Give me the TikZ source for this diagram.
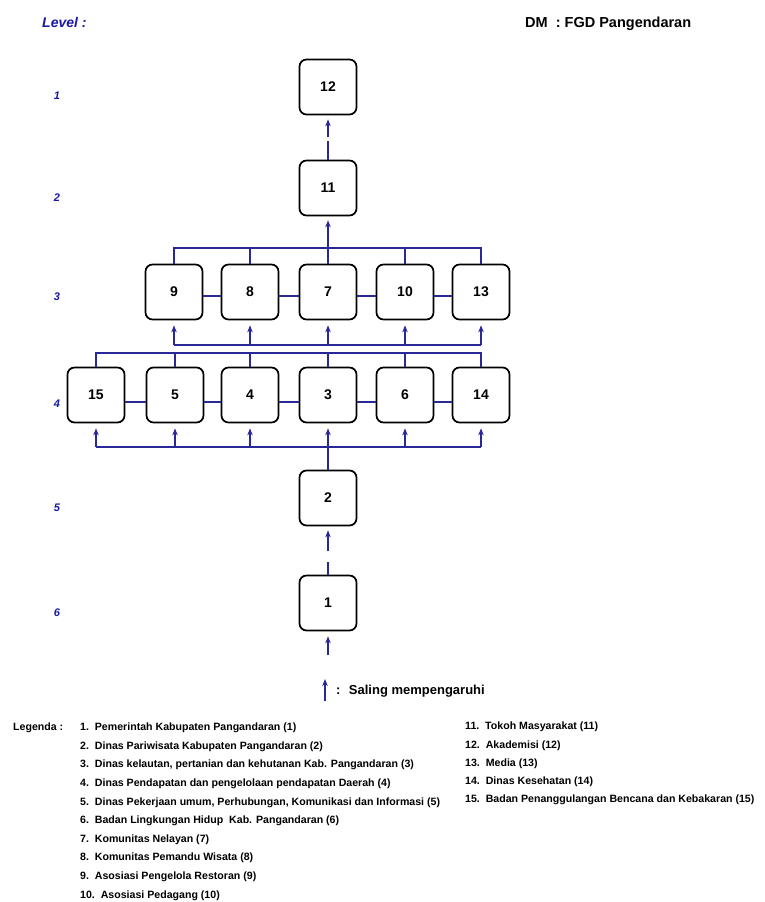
\documentclass[tikz,border=0pt]{standalone}
\usepackage{fontspec}
\setmainfont{Liberation Sans}
\usetikzlibrary{arrows.meta,calc}
\definecolor{linkblue}{RGB}{40,40,150}
\definecolor{lvlblue}{RGB}{25,25,165}
\tikzset{
  actor/.style={draw=black, line width=1.7pt, rounded corners=7pt, fill=white,
    minimum width=57pt, minimum height=55pt, inner sep=0pt,
    font=\fontsize{14}{16}\selectfont\bfseries},
  link/.style={draw=linkblue, line width=1.5pt},
  infl/.style={link, -{Stealth[length=7pt,width=5.5pt]}},
  lvl/.style={text=lvlblue, font=\fontsize{11}{13}\selectfont\bfseries\itshape},
  legend/.style={anchor=west, inner sep=0pt, font=\fontsize{10.6}{12}\selectfont\bfseries},
}
\begin{document}
\begin{tikzpicture}[x=1pt,y=-1pt]
\useasboundingbox[fill=white] (0,0) rectangle (765,902);

% headings
\node[lvl, anchor=west, inner sep=0pt, font=\fontsize{14}{16}\selectfont\bfseries\itshape] (levelhead) at (42,22) {Level :};
\node[anchor=west, inner sep=0pt, font=\fontsize{14.5}{16}\selectfont\bfseries] (dmhead) at (525,24) {DM \ : FGD Pangendaran};

% level numbers
\foreach \l/\y in {1/96,2/198,3/297,4/404,5/508,6/613}
  \node[lvl] (lvl\l) at (57,\y) {\l};

% actors
\node[actor] (n12) at (328,87) {12};
\node[actor] (n11) at (328,188) {11};
\foreach \n/\x in {9/174,8/250,7/328,10/405,13/481}
  \node[actor] (n\n) at (\x,292) {\n};
\foreach \n/\x in {15/96,5/175,4/250,3/328,6/405,14/481}
  \node[actor] (n\n) at (\x,395) {\n};
\node[actor] (n2) at (328,498) {2};
\node[actor] (n1) at (328,603) {1};

% 11 -> 12
\draw[link] (n11.north) -- ($(n11.north)+(0,-19)$);
\draw[infl] ($(n12.south)+(0,22)$) -- ($(n12.south)+(0,4)$);

% level 3 -> 11
\coordinate (b3t) at (0,248);
\draw[link] (n9.north) -- (n9.north |- b3t) -- (n13.north |- b3t) -- (n13.north);
\foreach \n in {8,7,10} \draw[link] (n\n.north) -- (n\n.north |- b3t);
\draw[infl, shorten >=4pt] (n11.south |- b3t) -- (n11.south);

% links within level 3
\foreach \a/\b in {9/8,8/7,7/10,10/13}
  \draw[link] ([yshift=-4pt]n\a.east) -- ([yshift=-4pt]n\b.west);

% level 4 -> level 3
\coordinate (b3b) at (0,345);
\draw[link] (n9.south |- b3b) -- (n13.south |- b3b);
\foreach \n in {9,8,7,10,13} \draw[infl, shorten >=5pt] (n\n.south |- b3b) -- (n\n.south);

\coordinate (b4t) at (0,353);
\draw[link] (n15.north) -- (n15.north |- b4t) -- (n14.north |- b4t) -- (n14.north);
\foreach \n in {5,4,3,6} \draw[link] (n\n.north) -- (n\n.north |- b4t);

% links within level 4
\foreach \a/\b in {15/5,5/4,4/3,3/6,6/14}
  \draw[link] ([yshift=-7pt]n\a.east) -- ([yshift=-7pt]n\b.west);

% 2 -> level 4
\coordinate (b4b) at (0,447);
\draw[link] (n15.south |- b4b) -- (n14.south |- b4b);
\foreach \n in {15,5,4,3,6,14} \draw[infl, shorten >=5pt] (n\n.south |- b4b) -- (n\n.south);
\draw[link] (n3.south |- b4b) -- (n2.north);

% 1 -> 2
\draw[link] (n1.north) -- ($(n1.north)+(0,-13)$);
\draw[infl] ($(n2.south)+(0,25)$) -- ($(n2.south)+(0,4)$);

% into 1
\draw[infl] ($(n1.south)+(0,24)$) -- ($(n1.south)+(0,5)$);

% key
\coordinate (keyarr) at (325,701);
\draw[infl] (keyarr) -- ++(0,-22);
\node[anchor=west, inner sep=0pt, font=\fontsize{13}{15}\selectfont\bfseries] (keytext) at (336,691) {: \ Saling mempengaruhi};

% legend
\node[legend] (legtitle) at (13,728) {Legenda :};
\foreach \i/\t [count=\k from 0] in {
  1/Pemerintah Kabupaten Pangandaran (1),
  2/Dinas Pariwisata Kabupaten Pangandaran (2),
  3/{Dinas kelautan, pertanian dan kehutanan Kab. Pangandaran (3)},
  4/Dinas Pendapatan dan pengelolaan pendapatan Daerah (4),
  5/{Dinas Pekerjaan umum, Perhubungan, Komunikasi dan Informasi (5)},
  6/Badan Lingkungan Hidup \ Kab. Pangandaran (6),
  7/Komunitas Nelayan (7),
  8/Komunitas Pemandu Wisata (8),
  9/Asosiasi Pengelola Restoran (9),
  10/Asosiasi Pedagang (10)}
  \node[legend] (leg\i) at (80,728+18.6*\k) {\i.\ \ \t};
\foreach \i/\t [count=\k from 0] in {
  11/Tokoh Masyarakat (11),
  12/Akademisi (12),
  13/Media (13),
  14/Dinas Kesehatan (14),
  15/Badan Penanggulangan Bencana dan Kebakaran (15)}
  \node[legend] (leg\i) at (465,727+18.3*\k) {\i.\ \ \t};
\end{tikzpicture}
\end{document}
